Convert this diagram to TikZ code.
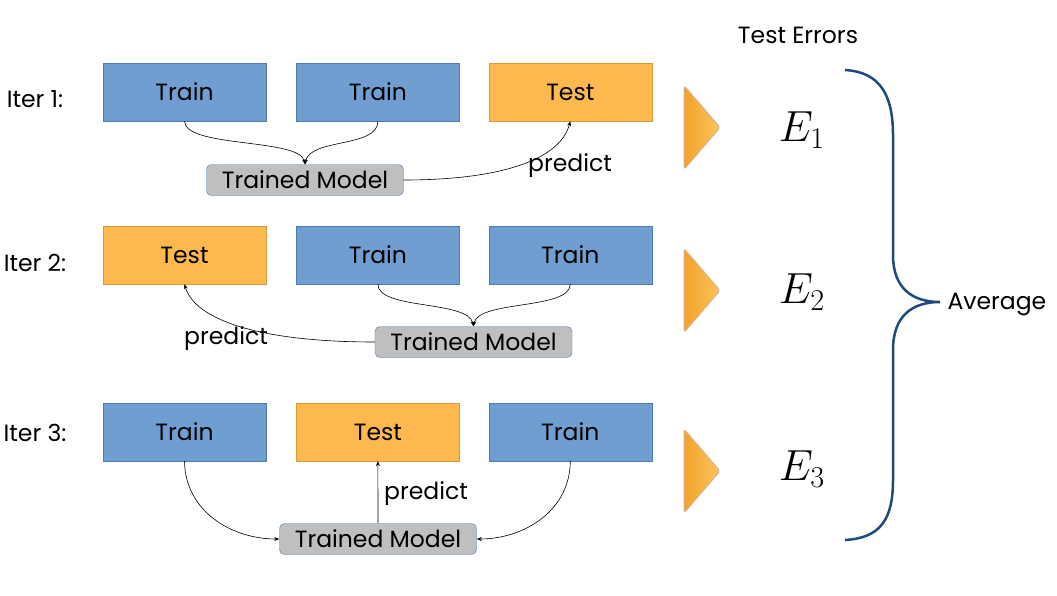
\documentclass[tikz,border=0pt]{standalone}
\usepackage{fontspec}
\setmainfont{Poppins}
\usetikzlibrary{positioning, arrows.meta}
\definecolor{trainblue}{HTML}{719ED1}
\definecolor{trainedge}{HTML}{4D7AB0}
\definecolor{testorange}{HTML}{FDB94E}
\definecolor{testedge}{HTML}{D99A3A}
\definecolor{modelgray}{HTML}{BFBFBF}
\definecolor{bracecol}{HTML}{1F4A7C}
\definecolor{arrowdark}{HTML}{F2A22A}
\definecolor{arrowlight}{HTML}{FCC55A}
\newcommand{\errsym}[1]{\scalebox{1.75}{$E_{#1}$}}

\begin{document}
\begin{tikzpicture}[
        x=1pt, y=-1pt,
        every node/.style={font=\fontsize{23.5}{26}\selectfont},
        fold/.style={rectangle, draw=trainedge, minimum width=163pt, minimum height=58pt, inner sep=0pt},
        trainbox/.style={fold, fill=trainblue},
        testbox/.style={fold, fill=testorange, draw=testedge},
        model/.style={rectangle, rounded corners=5pt, draw=trainedge, fill=modelgray, minimum width=197pt, minimum height=31pt, inner sep=0pt},
        errlabel/.style={font=\fontsize{24}{28}\selectfont},
        flow/.style={-{Stealth[length=5pt, width=4pt]}, line width=0.6pt},
        node distance=30pt
    ]
        \useasboundingbox (0,0) rectangle (1057,595);

        % Iter 1
        \node (i1) at (35,99) {Iter 1:};
        \node[trainbox] (t11) at (184.5,92) {Train};
        \node[trainbox] (t12) [right=of t11] {Train};
        \node[testbox]  (t13) [right=29pt of t12] {Test};
        \node[model] (m1) at (305,180) {Trained Model};
        \draw[flow] (t11.south) .. controls (185,148) and (300,138) .. (m1.north);
        \draw[flow] (t12.south) .. controls (378,148) and (310,138) .. (m1.north);
        \draw[flow] (m1.east) .. controls (500,180) and (560,160) .. (t13.south);
        \node (p1) at (570,166) {predict};

        % Iter 2
        \node (i2) at (35,263) {Iter 2:};
        \node[testbox]  (t21) at (184.5,255) {Test};
        \node[trainbox] (t22) [right=of t21] {Train};
        \node[trainbox] (t23) [right=29pt of t22] {Train};
        \node[model] (m2) at (473.5,342) {Trained Model};
        \draw[flow] (t22.south) .. controls (378,310) and (468,300) .. (m2.north);
        \draw[flow] (t23.south) .. controls (570,310) and (478,300) .. (m2.north);
        \draw[flow] (m2.west) .. controls (260,342) and (195,320) .. (t21.south);
        \node (p2) at (226,339) {predict};

        % Iter 3
        \node (i3) at (35,433) {Iter 3:};
        \node[trainbox] (t31) at (184.5,432) {Train};
        \node[testbox]  (t32) [right=of t31] {Test};
        \node[trainbox] (t33) [right=29pt of t32] {Train};
        \node[model] (m3) at (378,539) {Trained Model};
        \draw[flow] (t31.south) .. controls (185,510) and (230,539) .. (m3.west);
        \draw[flow] (t33.south) .. controls (570,510) and (525,539) .. (m3.east);
        \draw[flow] (m3.north) -- (t32.south);
        \node (p3) at (426,494) {predict};

        % Pfeile nach rechts
        \foreach \yc in {127.5,290.5,471} {
            \draw[draw=brown!60!white, line width=1pt, rounded corners=3pt,
                  left color=arrowdark, right color=arrowlight]
                (684,\yc-42) -- (720,\yc) -- (684,\yc+42) -- cycle;
        }

        % Fehler
        \node (err) at (798,35) {Test Errors};
        \node[errlabel] (e1) at (802,130) {\errsym{1}};
        \node[errlabel] (e2) at (802,292) {\errsym{2}};
        \node[errlabel] (e3) at (802,469) {\errsym{3}};

        % Klammer
        \coordinate (tip) at (940,302);
        \draw[bracecol, line width=2.5pt]
            (845,70) .. controls (880,72) and (893,95) .. (893,135) -- (893,255)
            .. controls (893,288) and (912,302) .. (tip)
            .. controls (912,302) and (893,316) .. (893,350) -- (893,480)
            .. controls (893,520) and (880,538) .. (845,540);
        \node[anchor=west] (avg) at (944,305) {Average};
    \end{tikzpicture}
\end{document}
